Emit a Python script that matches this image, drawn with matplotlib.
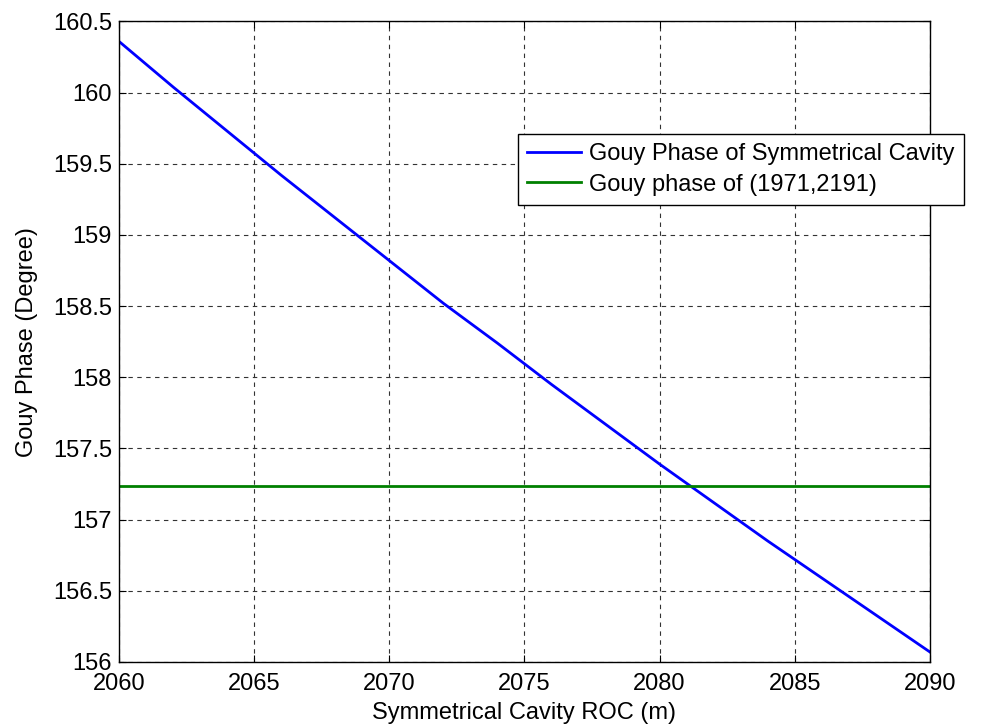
import matplotlib.pyplot as plt

# data
roc = [2060, 2062, 2064, 2066, 2068, 2070, 2072, 2074, 2076, 2078,
       2080, 2082, 2084, 2086, 2088, 2090]
gouy_sym = [160.36, 160.04, 159.73, 159.42, 159.12, 158.82, 158.52, 158.24,
            157.95, 157.67, 157.39, 157.12, 156.85, 156.59, 156.33, 156.07]
gouy_ref = 157.234
xticks = [2060, 2065, 2070, 2075, 2080, 2085, 2090]
yticks = [156, 156.5, 157, 157.5, 158, 158.5, 159, 159.5, 160, 160.5]

plt.rcParams['font.family'] = ['Liberation Sans', 'DejaVu Sans']
FS = 17


def main():
	fig = plt.figure(figsize=(9.95, 7.28), dpi=100)
	ax = fig.add_axes([0.1196, 0.0907, 0.815, 0.8798])

	ax.plot(roc, gouy_sym, color=(0, 0, 1), lw=2, label='Gouy Phase of Symmetrical Cavity')
	ax.plot([roc[0], roc[-1]], [gouy_ref, gouy_ref], color=(0, 0.5, 0), lw=2,
			label='Gouy phase of (1971,2191)')

	ax.set_xlim(2060, 2090)
	ax.set_ylim(156, 160.5)
	ax.set_xticks(xticks)
	ax.set_yticks(yticks)
	ax.set_yticklabels([('%g' % v) for v in yticks])
	ax.tick_params(direction='in', top=True, right=True, length=5, labelsize=FS)
	ax.tick_params(axis='x', pad=8)
	ax.tick_params(axis='y', pad=5)
	ax.grid(True, color='0.2', ls=(0, (4, 4)), lw=0.8)
	for s in ax.spines.values():
		s.set_linewidth(1)

	ax.set_xlabel('Symmetrical Cavity ROC (m)', fontsize=FS, labelpad=5)
	ax.set_ylabel('Gouy Phase (Degree)', fontsize=FS, labelpad=11)

	leg = ax.legend(loc='upper left', bbox_to_anchor=(518 / 995, 1 - 134 / 728),
					bbox_transform=fig.transFigure, fontsize=FS, fancybox=False,
					edgecolor='k', framealpha=1, handlelength=2.25, borderaxespad=0,
					borderpad=0.4, labelspacing=0.35, handletextpad=0.35)
	leg.get_frame().set_linewidth(1)

	fig.savefig('out.png', dpi=100)
	plt.close(fig)


if __name__ == '__main__':
	main()
